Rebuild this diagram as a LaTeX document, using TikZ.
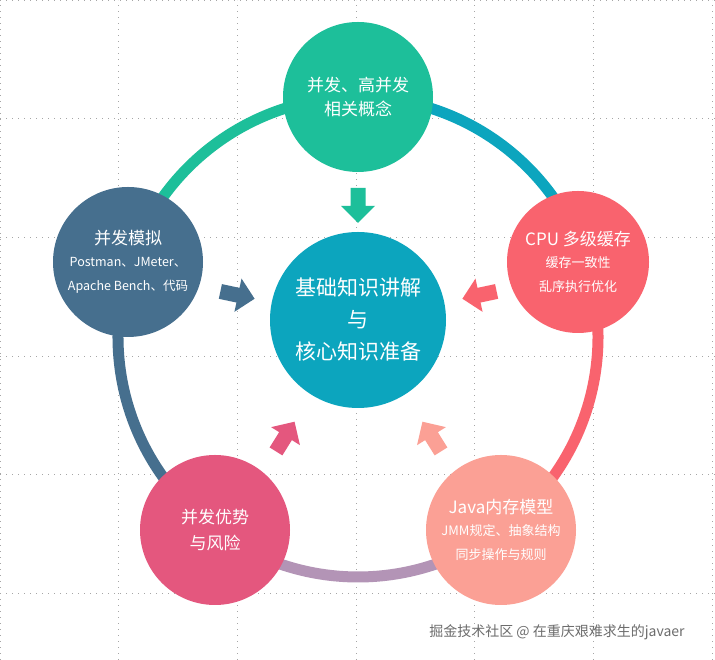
\documentclass[tikz,border=0pt]{standalone}
\usepackage{fontspec}
\setmainfont{Noto Sans CJK SC}
\newcommand\bigf{\fontsize{17}{24}\selectfont}
\newcommand\smf{\fontsize{13}{20}\selectfont}
\newcommand\smmf{\fontsize{12.5}{19}\selectfont}
\begin{document}
\begin{tikzpicture}[x=1pt,y=1pt,
  node/.style={circle,minimum size=#1,inner sep=0pt,text=white,align=center},
  ring/.style={line width=11pt}]
\definecolor{cg}{HTML}{1DBF9A}\definecolor{cb}{HTML}{466F8E}\definecolor{cr}{HTML}{F9636E}
\definecolor{cs}{HTML}{FBA095}\definecolor{cp}{HTML}{E4577E}\definecolor{cc}{HTML}{0CA5BE}
\definecolor{cv}{HTML}{B394B6}
\useasboundingbox (0,0) rectangle (715,660);
\fill[white] (0,0) rectangle (715,660);
\foreach \i in {0,118.7,237.3,356,474.7,593.3,712}{
  \draw[gray!70,line width=0.8pt,dash pattern=on 0.8pt off 5.2pt] (\i,0)--(\i,660);
  \draw[gray!70,line width=0.8pt,dash pattern=on 0.8pt off 5.2pt] (0,660-\i)--(715,660-\i);}
\coordinate (rc) at (358,323);
\draw[ring,cg] (rc) ++(90:240) arc[start angle=90,end angle=162,radius=240];
\draw[ring,cb] (rc) ++(162:240) arc[start angle=162,end angle=233.5,radius=240];
\draw[ring,cv] (rc) ++(233.5:240) arc[start angle=233.5,end angle=306.5,radius=240];
\draw[ring,cr] (rc) ++(306.5:240) arc[start angle=306.5,end angle=378,radius=240];
\draw[ring,cc] (rc) ++(18:240) arc[start angle=18,end angle=90,radius=240];
\node[node=150pt,fill=cg,font=\bigf] (top) at (358,563) {并发、高并发\\相关概念};
\node[node=150pt,fill=cb,font=\bigf] (left) at (128,398) {并发模拟\\[-2pt]\smmf Postman、JMeter、\\\smmf Apache Bench、代码};
\node[node=142pt,fill=cr,font=\bigf] (right) at (578,398) {CPU 多级缓存\\[-2pt]\smf 缓存一致性\\\smf 乱序执行优化};
\node[node=150pt,fill=cp,font=\fontsize{17}{26}\selectfont] (bl) at (215,130) {并发优势\\与风险};
\node[node=150pt,fill=cs,font=\bigf] (br) at (501,130) {Java内存模型\\[-2pt]\smf JMM规定、抽象结构\\\smf 同步操作与规则};
\node[node=176pt,fill=cc,font=\fontsize{21}{32}\selectfont] (ctr) at (358,340) {基础知识讲解\\与\\核心知识准备};
\foreach \p/\a/\c in {{358,455}/-90/cg,{237,365}/-12/cb,{480,365}/192/cr,{285,223}/58/cp,{432,223}/122/cs}{
  \fill[\c,shift={(\p)},rotate=\a] (-17,-7.5)--(1,-7.5)--(1,-17)--(18,0)--(1,17)--(1,7.5)--(-17,7.5)--cycle;}
\node[text=gray!85!black,font=\fontsize{14}{16}\selectfont] (wm) at (557,28) {掘金技术社区 @ 在重庆艰难求生的javaer};
\end{tikzpicture}
\end{document}
